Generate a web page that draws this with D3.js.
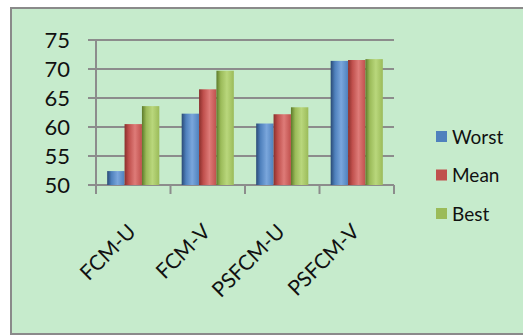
<!DOCTYPE html>
<html><head><meta charset="utf-8">
<script src="https://cdn.jsdelivr.net/npm/d3@7"></script>
<style>body{margin:0;background:#fff}svg{display:block}text{font-family:Lato,"Open Sans",sans-serif;fill:#111}</style>
</head><body>
<svg id="c" width="523" height="336"></svg>
<script>
const categories = ["FCM-U","FCM-V","PSFCM-U","PSFCM-V"];
const seriesNames = ["Worst","Mean","Best"];
const worst = [52.4, 62.3, 60.6, 71.4];
const mean  = [60.5, 66.5, 62.2, 71.55];
const best  = [63.6, 69.7, 63.4, 71.7];
const yTicks = [50,55,60,65,70,75];
const colors = ["#4F81BD","#C0504D","#9BBB59"];
const darks  = ["#2A4A75","#8A2F2C","#5C7A2A"];
const lights = ["#7AA6DC","#DE7B78","#B9D77C"];

const svg = d3.select("#c");
const defs = svg.append("defs");
colors.forEach((c,i)=>{
  const g = defs.append("linearGradient").attr("id","g"+i).attr("x1","0").attr("x2","1").attr("y1","0").attr("y2","0");
  g.append("stop").attr("offset","0").attr("stop-color",darks[i]);
  g.append("stop").attr("offset","0.25").attr("stop-color",c);
  g.append("stop").attr("offset","0.6").attr("stop-color",lights[i]);
  g.append("stop").attr("offset","1").attr("stop-color",c);
});

// chart area background
svg.append("rect").attr("x",11).attr("y",8).attr("width",520).attr("height",326)
  .attr("fill","#C6EBCC").attr("stroke","#8a8a8a").attr("stroke-width",2);

const x0 = 96, x1 = 394, yTop = 40, yBot = 185;
const y = d3.scaleLinear().domain([50,75]).range([yBot, yTop]);
const xb = d3.scaleBand().domain(categories).range([x0, x1]).paddingInner(0.3).paddingOuter(0.15);
const xs = d3.scaleBand().domain(seriesNames).range([0, xb.bandwidth()]);
const xc = d3.scaleBand().domain(categories).range([x0, x1]);

// gridlines
svg.append("g").selectAll("line").data(yTicks).join("line")
  .attr("x1",88).attr("x2",x1).attr("y1",d=>y(d)).attr("y2",d=>y(d))
  .attr("stroke","#8c8c8c").attr("stroke-width",2);
// y axis line
svg.append("line").attr("x1",x0).attr("x2",x0).attr("y1",yTop).attr("y2",yBot+8)
  .attr("stroke","#8c8c8c").attr("stroke-width",2);
// x ticks
const xTickPos = categories.map(c=>xc(c)).concat([x1]);
svg.append("g").selectAll("line").data(xTickPos).join("line")
  .attr("x1",d=>d).attr("x2",d=>d).attr("y1",yBot).attr("y2",yBot+9)
  .attr("stroke","#8c8c8c").attr("stroke-width",2);

// y labels
svg.append("g").selectAll("text").data(yTicks).join("text")
  .attr("x",70).attr("y",d=>y(d)).attr("dy","0.36em").attr("text-anchor","end")
  .attr("font-size",22).text(d=>d);

// bars
const data = [worst, mean, best];
const gb = svg.append("g");
categories.forEach((c,ci)=>{
  seriesNames.forEach((s,si)=>{
    const v = data[si][ci];
    gb.append("rect").attr("x",xb(c)+xs(s)).attr("width",xs.bandwidth())
      .attr("y",y(v)).attr("height",yBot - y(v))
      .attr("fill","url(#g"+si+")");
  });
});

// x labels
svg.append("g").selectAll("text").data(categories).join("text")
  .attr("text-anchor","end").attr("font-size",21)
  .attr("transform",c=>`translate(${xc(c)+xc.bandwidth()/2+4},${yBot+48}) rotate(-45)`)
  .text(c=>c);

// legend
const lg = svg.append("g");
seriesNames.forEach((s,i)=>{
  const ly = 137 + i*38.5;
  lg.append("rect").attr("x",436).attr("y",ly-6).attr("width",11).attr("height",11).attr("fill",colors[i]);
  lg.append("text").attr("x",452).attr("y",ly).attr("dy","0.36em").attr("font-size",19).text(s);
});
</script>
</body></html>
